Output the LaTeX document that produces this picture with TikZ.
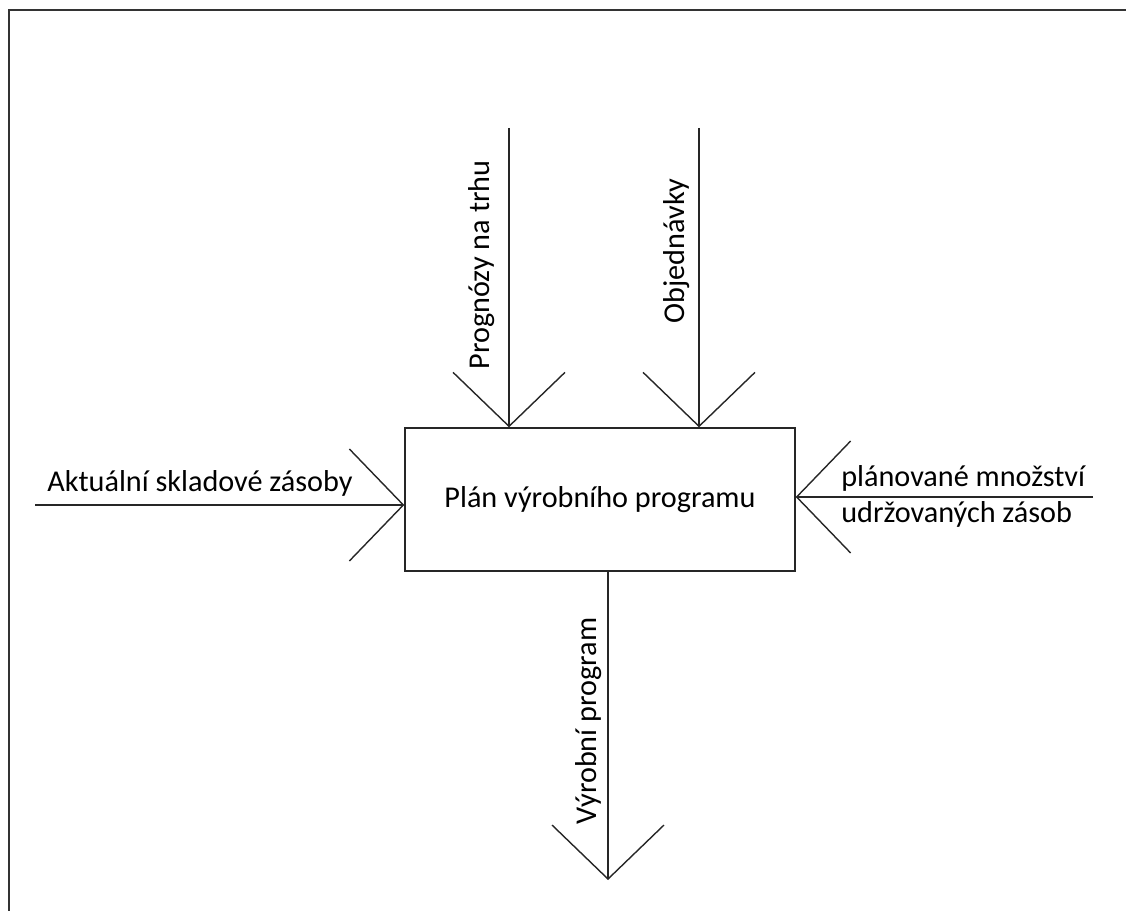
\documentclass[tikz,border=0pt]{standalone}
\usepackage{fontspec}
\setmainfont{Carlito}
\usetikzlibrary{arrows.meta,positioning}

\tikzset{
  flow/.style={draw=black!85, line width=0.8pt,
    -{Straight Barb[length=1.08cm,width=2.24cm,line width=0.8pt]}},
  label/.style={font=\fontsize{17.2}{20.5}\selectfont, inner sep=0pt},
  planbox/.style={draw=black!85, line width=0.8pt, minimum width=7.8cm,
    minimum height=2.86cm, font=\fontsize{17.2}{20.5}\selectfont}
}

\begin{document}
\begin{tikzpicture}[x=0.02cm, y=-0.02cm]
  \useasboundingbox (0,0) rectangle (1126,911);
  % Frame
  \draw[line width=1.1pt, black!80] (9,911) -- (9,10) -- (1126,10);

  % Central box
  \node[planbox] (plan) at (600,499.5) {Plán výrobního programu};

  % Free ends of the arrows
  \coordinate (prognozy) at (509,128);
  \coordinate (objed) at (699,128);
  \coordinate (zasoby) at (35,505);
  \coordinate (udrz) at (1093,497);
  \coordinate (vyroba) at (608,880);

  % Inputs
  \draw[flow] (prognozy) -- (prognozy |- plan.north);
  \draw[flow] (objed) -- (objed |- plan.north);
  \draw[flow] (zasoby) -- (zasoby -| plan.west);
  \draw[flow] (udrz) -- (udrz -| plan.east);
  % Output
  \draw[flow] (plan.south -| vyroba) -- (vyroba);

  % Labels
  \node[label, rotate=90] (lprog) at (482,265) {Prognózy na trhu};
  \node[label, rotate=90] (lobj) at (677,251) {Objednávky};
  \node[label, rotate=90] (lvyr) at (589,721) {Výrobní program};
  \node[label, anchor=base] (lzas) at (200,492) {Aktuální skladové zásoby};
  \node[label, anchor=west, align=left] (ludr) at (841,496)
    {plánované množství\\udržovaných zásob};
\end{tikzpicture}
\end{document}
